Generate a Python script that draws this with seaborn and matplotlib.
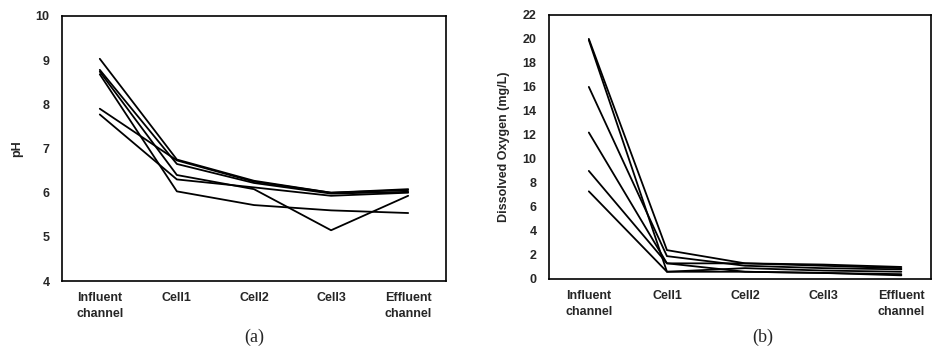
import matplotlib
matplotlib.use("Agg")
import matplotlib.pyplot as plt
import seaborn as sns
import pandas as pd
import numpy as np

# ---- data ----
categories = ["Influent\nchannel", "Cell1", "Cell2", "Cell3", "Effluent\nchannel"]

ph_1 = [9.03, 6.75, 6.27, 6.00, 6.06]
ph_2 = [8.78, 6.65, 6.22, 5.98, 6.02]
ph_3 = [8.74, 6.40, 6.08, 5.15, 5.93]
ph_4 = [8.68, 6.03, 5.72, 5.60, 5.54]
ph_5 = [7.90, 6.73, 6.25, 6.00, 6.08]
ph_6 = [7.77, 6.30, 6.12, 5.93, 6.00]

do_1 = [20.0, 2.4, 1.3, 1.1, 0.9]
do_2 = [19.9, 0.6, 0.9, 0.7, 0.6]
do_3 = [16.0, 1.9, 1.1, 0.9, 0.8]
do_4 = [12.2, 1.3, 1.3, 1.2, 1.0]
do_5 = [9.0, 1.3, 0.6, 0.5, 0.4]
do_6 = [7.3, 0.6, 0.6, 0.5, 0.3]

ph_ticks = [4, 5, 6, 7, 8, 9, 10]
do_ticks = list(range(0, 23, 2))


def long_df(series):
    rows = []
    for i, s in enumerate(series):
        for j, v in enumerate(s):
            rows.append({"run": i, "pos": j, "value": v})
    return pd.DataFrame(rows)


ph_df = long_df([ph_1, ph_2, ph_3, ph_4, ph_5, ph_6])
do_df = long_df([do_1, do_2, do_3, do_4, do_5, do_6])

sns.set_theme(style="white")
plt.rcParams["font.family"] = ["Liberation Sans", "DejaVu Sans"]

fig = plt.figure(figsize=(9.41, 3.54), dpi=100)
ax1 = fig.add_axes([0.0659, 0.206, 0.408, 0.749])
ax2 = fig.add_axes([0.5834, 0.212, 0.406, 0.746])

for ax, df, ticks, ylab, xlim in [
    (ax1, ph_df, ph_ticks, "pH", (-0.49, 4.49)),
    (ax2, do_df, do_ticks, "Dissolved Oxygen (mg/L)", (-0.51, 4.38)),
]:
    sns.lineplot(data=df, x="pos", y="value", units="run", estimator=None,
                 color="black", linewidth=1.3, ax=ax, legend=False)
    ax.set_xlim(*xlim)
    ax.set_ylim(ticks[0], ticks[-1])
    ax.set_yticks(ticks)
    ax.set_yticklabels([str(t) for t in ticks], fontsize=9, fontweight="bold")
    ax.set_xticks(range(len(categories)))
    ax.set_xticklabels(categories, fontsize=9, fontweight="bold", linespacing=1.45)
    ax.tick_params(axis="both", length=0)
    ax.tick_params(axis="y", pad=9)
    ax.tick_params(axis="x", pad=8)
    ax.set_xlabel("")
    ax.set_ylabel(ylab, fontsize=9, fontweight="bold", labelpad=9)
    for sp in ax.spines.values():
        sp.set_visible(True)
        sp.set_color("black")
        sp.set_linewidth(1.2)
    ax.grid(False)

fig.text(254 / 941, 1 - 337 / 354, "(a)", ha="center", va="center",
         fontsize=13, family=["Liberation Serif", "DejaVu Serif"])
fig.text(763 / 941, 1 - 337 / 354, "(b)", ha="center", va="center",
         fontsize=13, family=["Liberation Serif", "DejaVu Serif"])

fig.savefig("out.png", dpi=100, facecolor="white")
